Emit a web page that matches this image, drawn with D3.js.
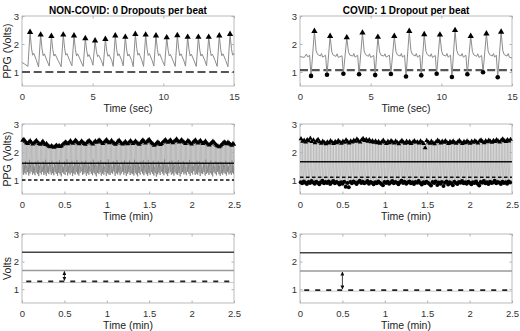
<!DOCTYPE html>
<html>
<head>
<meta charset="utf-8">
<script src="https://cdn.jsdelivr.net/npm/d3@7"></script>
<style>
  body { margin: 0; background: #fff; }
  svg { display: block; font-family: "Liberation Sans", Arial, sans-serif; }
</style>
</head>
<body>
<div id="chart"></div>
<script>
// ---------- top row: 15 s excerpts (time in sec, volts) ----------
const ncWave = [
  [0,1.34],[0.2,1.28],[0.42,1.2],[0.57,2.42],[0.67,1.86],[0.75,1.6],[0.83,1.67],[1.02,1.42],
  [1.17,1.18],[1.32,2.33],[1.42,1.82],[1.5,1.58],[1.58,1.65],[1.77,1.4],
  [1.93,1.21],[2.08,2.28],[2.18,1.8],[2.26,1.57],[2.34,1.64],[2.55,1.42],
  [2.77,1.19],[2.92,2.33],[3.02,1.83],[3.1,1.6],[3.18,1.66],[3.37,1.41],
  [3.53,1.22],[3.68,2.3],[3.78,1.8],[3.86,1.57],[3.94,1.65],[4.13,1.43],
  [4.33,1.2],[4.48,2.2],[4.58,1.76],[4.66,1.55],[4.74,1.62],[4.93,1.4],
  [5.02,1.24],[5.17,2.12],[5.27,1.72],[5.35,1.55],[5.43,1.6],[5.62,1.4],
  [5.75,1.21],[5.9,2.17],[6.0,1.75],[6.08,1.56],[6.16,1.62],[6.35,1.41],
  [6.45,1.2],[6.6,2.3],[6.7,1.8],[6.78,1.58],[6.86,1.65],[7.05,1.42],
  [7.16,1.22],[7.31,2.25],[7.41,1.78],[7.49,1.57],[7.57,1.64],[7.76,1.41],
  [7.87,1.19],[8.02,2.35],[8.12,1.84],[8.2,1.6],[8.28,1.67],[8.47,1.43],
  [8.6,1.2],[8.75,2.33],[8.85,1.82],[8.93,1.59],[9.01,1.66],[9.2,1.42],
  [9.33,1.21],[9.48,2.3],[9.58,1.8],[9.66,1.58],[9.74,1.65],[9.93,1.41],
  [10.09,1.22],[10.24,2.23],[10.34,1.78],[10.42,1.57],[10.5,1.63],[10.69,1.4],
  [10.84,1.2],[10.99,2.31],[11.09,1.81],[11.17,1.58],[11.25,1.65],[11.44,1.42],
  [11.57,1.21],[11.72,2.25],[11.82,1.79],[11.9,1.57],[11.98,1.64],[12.17,1.41],
  [12.33,1.2],[12.48,2.25],[12.58,1.78],[12.66,1.57],[12.74,1.64],[12.93,1.42],
  [13.06,1.22],[13.21,2.25],[13.31,1.79],[13.39,1.58],[13.47,1.64],[13.66,1.41],
  [13.81,1.2],[13.96,2.3],[14.06,1.8],[14.14,1.58],[14.22,1.65],[14.41,1.42],
  [14.57,1.19],[14.72,2.35],[14.82,1.83],[14.9,1.6],[14.98,1.66],[15,1.62]
];
const ncPeakT = [0.57,1.32,2.08,2.92,3.68,4.48,5.17,5.9,6.6,7.31,8.02,8.75,9.48,10.24,10.99,11.72,12.48,13.21,13.96,14.72];
const ncPeakV = [2.42,2.33,2.28,2.33,2.3,2.2,2.12,2.17,2.3,2.25,2.35,2.33,2.3,2.23,2.31,2.25,2.25,2.25,2.3,2.35];
const ncThreshTop = 1.0;

const cWave = [
  [0,1.55],[0.3,1.52],[0.45,1.64],[0.55,1.54],[0.68,1.6],[0.78,0.86],[1.02,2.46],[1.14,1.76],[1.24,1.63],[1.44,1.57],[1.52,1.66],[1.6,1.53],
  [1.81,1.6],[1.91,0.9],[2.13,2.28],[2.25,1.72],[2.35,1.6],[2.55,1.56],[2.63,1.65],[2.71,1.52],
  [2.97,1.58],[3.07,0.94],[3.31,2.23],[3.43,1.72],[3.53,1.6],[3.73,1.57],[3.81,1.66],[3.89,1.53],
  [4.08,1.6],[4.18,0.92],[4.42,2.4],[4.54,1.75],[4.64,1.62],[4.84,1.56],[4.92,1.65],[5.0,1.52],
  [5.22,1.59],[5.32,0.89],[5.51,2.25],[5.63,1.72],[5.73,1.6],[5.93,1.57],[6.01,1.65],[6.09,1.53],
  [6.33,1.6],[6.43,0.93],[6.67,2.28],[6.79,1.73],[6.89,1.61],[7.09,1.57],[7.17,1.66],[7.25,1.53],
  [7.4,1.6],[7.5,0.84],[7.73,2.46],[7.85,1.76],[7.95,1.63],[8.15,1.57],[8.23,1.66],[8.31,1.53],
  [8.48,1.6],[8.58,0.88],[8.79,2.34],[8.91,1.74],[9.01,1.62],[9.21,1.56],[9.29,1.65],[9.37,1.52],
  [9.57,1.59],[9.67,0.94],[9.9,2.33],[10.02,1.74],[10.12,1.61],[10.32,1.57],[10.4,1.66],[10.48,1.53],
  [10.65,1.6],[10.75,0.82],[10.97,2.49],[11.09,1.77],[11.19,1.63],[11.39,1.57],[11.47,1.66],[11.55,1.53],
  [11.74,1.6],[11.84,0.92],[12.08,2.28],[12.2,1.73],[12.3,1.61],[12.5,1.56],[12.58,1.65],[12.66,1.52],
  [12.85,1.59],[12.95,0.99],[13.19,2.37],[13.31,1.75],[13.41,1.62],[13.61,1.57],[13.69,1.66],[13.77,1.53],
  [13.89,1.6],[13.99,0.81],[14.23,2.43],[14.35,1.76],[14.45,1.62],[14.65,1.57],[14.73,1.66],[14.81,1.53],[15,1.5]
];
const cPeakT = [1.02,2.13,3.31,4.42,5.51,6.67,7.73,8.79,9.9,10.97,12.08,13.19,14.23];
const cPeakV = [2.46,2.28,2.23,2.4,2.25,2.28,2.46,2.34,2.33,2.49,2.28,2.37,2.43];
const cDropT = [0.78,1.91,3.07,4.18,5.32,6.43,7.5,8.58,9.67,10.75,11.84,12.95,13.99];
const cDropV = [0.86,0.9,0.94,0.92,0.89,0.93,0.84,0.88,0.94,0.82,0.92,0.99,0.81];
const cThreshTop = 1.07;

// ---------- middle row: 2.5 min recordings (beat onset in min) ----------
const ncBeatT = [
  0.005,0.020,0.034,0.049,0.065,0.080,0.094,0.109,0.124,0.139,
  0.154,0.168,0.183,0.198,0.214,0.229,0.243,0.258,0.272,0.287,
  0.302,0.317,0.332,0.346,0.361,0.376,0.391,0.405,0.420,0.435,
  0.450,0.464,0.479,0.494,0.509,0.523,0.538,0.553,0.568,0.582,
  0.597,0.612,0.627,0.641,0.656,0.671,0.686,0.700,0.715,0.730,
  0.745,0.759,0.774,0.789,0.804,0.818,0.833,0.848,0.863,0.877,
  0.892,0.907,0.922,0.936,0.951,0.966,0.981,0.995,1.010,1.025,
  1.040,1.054,1.069,1.084,1.099,1.113,1.128,1.143,1.158,1.172,
  1.187,1.202,1.217,1.231,1.246,1.261,1.276,1.290,1.305,1.320,
  1.335,1.349,1.364,1.379,1.394,1.408,1.423,1.438,1.453,1.467,
  1.482,1.497,1.512,1.526,1.541,1.556,1.571,1.585,1.600,1.615,
  1.630,1.644,1.659,1.674,1.689,1.703,1.718,1.733,1.748,1.762,
  1.777,1.792,1.807,1.821,1.836,1.851,1.866,1.880,1.895,1.910,
  1.925,1.939,1.954,1.969,1.984,1.998,2.013,2.028,2.043,2.057,
  2.072,2.087,2.102,2.116,2.131,2.146,2.161,2.175,2.190,2.205,
  2.220,2.234,2.249,2.264,2.279,2.293,2.308,2.323,2.338,2.352,
  2.367,2.382,2.397,2.411,2.426,2.441,2.456,2.470,2.485,2.495
];
const ncBeatPk = [
  2.42,2.45,2.38,2.33,2.30,2.36,2.40,2.34,2.28,2.32,
  2.37,2.41,2.35,2.30,2.27,2.33,2.38,2.31,2.26,2.30,
  2.24,2.20,2.18,2.22,2.19,2.17,2.21,2.24,2.20,2.23,
  2.19,2.22,2.27,2.31,2.36,2.33,2.29,2.34,2.40,2.35,
  2.31,2.36,2.42,2.38,2.33,2.29,2.34,2.39,2.35,2.30,
  2.27,2.33,2.37,2.41,2.36,2.32,2.28,2.35,2.39,2.34,
  2.38,2.43,2.39,2.34,2.30,2.35,2.40,2.44,2.37,2.33,
  2.36,2.41,2.35,2.31,2.27,2.32,2.38,2.42,2.36,2.31,
  2.28,2.33,2.37,2.32,2.29,2.35,2.40,2.36,2.30,2.34,
  2.39,2.35,2.31,2.27,2.33,2.38,2.43,2.37,2.32,2.36,
  2.41,2.45,2.38,2.33,2.29,2.24,2.27,2.32,2.36,2.31,
  2.26,2.30,2.35,2.40,2.44,2.38,2.34,2.39,2.43,2.37,
  2.33,2.38,2.42,2.46,2.40,2.35,2.39,2.44,2.38,2.34,
  2.30,2.35,2.41,2.37,2.32,2.28,2.34,2.39,2.43,2.36,
  2.32,2.37,2.41,2.35,2.30,2.34,2.39,2.33,2.28,2.25,
  2.29,2.33,2.38,2.34,2.28,2.24,2.21,2.18,2.22,2.26,
  2.31,2.36,2.33,2.29,2.35,2.31,2.27,2.24,2.30,2.27
];
const ncBeatTr = [
  1.22,1.18,1.25,1.20,1.28,1.16,1.23,1.30,1.19,1.24,
  1.17,1.27,1.21,1.14,1.25,1.20,1.29,1.18,1.23,1.15,
  1.26,1.21,1.30,1.19,1.24,1.17,1.28,1.22,1.15,1.25,
  1.20,1.13,1.27,1.22,1.18,1.29,1.16,1.24,1.20,1.26,
  1.14,1.23,1.19,1.28,1.21,1.16,1.25,1.31,1.18,1.22,
  1.27,1.15,1.24,1.19,1.30,1.22,1.17,1.26,1.20,1.13,
  1.25,1.21,1.28,1.16,1.23,1.19,1.29,1.14,1.24,1.20,
  1.18,1.26,1.22,1.30,1.15,1.24,1.20,1.27,1.17,1.23,
  1.29,1.19,1.25,1.14,1.22,1.28,1.18,1.24,1.21,1.16,
  1.26,1.20,1.13,1.25,1.19,1.30,1.22,1.17,1.27,1.21,
  1.15,1.24,1.19,1.28,1.22,1.16,1.25,1.12,1.20,1.26,
  1.18,1.29,1.23,1.17,1.26,1.21,1.14,1.24,1.30,1.19,
  1.23,1.16,1.27,1.21,1.18,1.25,1.13,1.22,1.28,1.20,
  1.24,1.17,1.29,1.22,1.15,1.26,1.20,1.31,1.18,1.23,
  1.19,1.27,1.14,1.24,1.21,1.28,1.16,1.22,1.26,1.18,
  1.25,1.20,1.13,1.27,1.23,1.17,1.29,1.21,1.15,1.24,
  1.19,1.26,1.22,1.16,1.28,1.20,1.24,1.18,1.25,1.21
];
const ncBeatNotch = [
  1.62,1.55,1.68,1.50,1.60,1.72,1.53,1.65,1.58,1.48,
  1.66,1.57,1.70,1.52,1.61,1.49,1.67,1.56,1.73,1.59,
  1.51,1.64,1.55,1.69,1.47,1.60,1.54,1.66,1.58,1.71,
  1.53,1.62,1.48,1.67,1.57,1.74,1.52,1.63,1.56,1.69,
  1.50,1.65,1.59,1.72,1.54,1.61,1.47,1.68,1.56,1.64,
  1.70,1.53,1.62,1.49,1.66,1.58,1.73,1.55,1.60,1.51,
  1.67,1.57,1.71,1.52,1.63,1.48,1.65,1.59,1.74,1.54,
  1.61,1.50,1.68,1.56,1.64,1.72,1.53,1.60,1.47,1.66,
  1.58,1.70,1.52,1.63,1.55,1.69,1.49,1.62,1.57,1.73,
  1.54,1.65,1.59,1.48,1.67,1.56,1.71,1.53,1.64,1.60,
  1.72,1.51,1.63,1.57,1.69,1.46,1.62,1.55,1.68,1.58,
  1.50,1.66,1.60,1.74,1.53,1.61,1.48,1.67,1.56,1.70,
  1.59,1.52,1.65,1.57,1.71,1.49,1.63,1.55,1.68,1.61,
  1.47,1.64,1.58,1.72,1.54,1.66,1.50,1.62,1.57,1.69,
  1.53,1.67,1.60,1.48,1.65,1.56,1.73,1.52,1.63,1.58,
  1.70,1.55,1.61,1.49,1.68,1.57,1.64,1.51,1.66,1.59,
  1.62,1.54,1.69,1.58,1.50,1.65,1.56,1.71,1.53,1.60
];
const ncMeanMid = 1.6;
const ncThreshMid = 1.0;

const cBeatT = [
  0.008,0.026,0.045,0.063,0.081,0.100,0.118,0.136,0.155,0.173,
  0.191,0.209,0.228,0.246,0.264,0.283,0.301,0.319,0.338,0.356,
  0.374,0.392,0.411,0.429,0.447,0.466,0.484,0.502,0.521,0.539,
  0.557,0.575,0.594,0.612,0.630,0.649,0.667,0.685,0.704,0.722,
  0.740,0.758,0.777,0.795,0.813,0.832,0.850,0.868,0.887,0.905,
  0.923,0.941,0.960,0.978,0.996,1.015,1.033,1.051,1.070,1.088,
  1.106,1.124,1.143,1.161,1.179,1.198,1.216,1.234,1.253,1.271,
  1.289,1.307,1.326,1.344,1.362,1.381,1.399,1.417,1.436,1.454,
  1.472,1.490,1.509,1.527,1.545,1.564,1.582,1.600,1.619,1.637,
  1.655,1.673,1.692,1.710,1.728,1.747,1.765,1.783,1.802,1.820,
  1.838,1.856,1.875,1.893,1.911,1.930,1.948,1.966,1.985,2.003,
  2.021,2.039,2.058,2.076,2.094,2.113,2.131,2.149,2.168,2.186,
  2.204,2.222,2.241,2.259,2.277,2.296,2.314,2.332,2.351,2.369,
  2.387,2.405,2.424,2.442,2.460,2.478
];
const cBeatPk = [
  2.47,2.38,2.42,2.35,2.44,2.40,2.49,2.37,2.43,2.33,
  2.39,2.45,2.36,2.31,2.38,2.34,2.29,2.36,2.32,2.40,
  2.35,2.30,2.37,2.33,2.41,2.36,2.31,2.38,2.34,2.43,
  2.37,2.32,2.39,2.35,2.42,2.38,2.46,2.40,2.35,2.43,
  2.48,2.41,2.45,2.38,2.44,2.36,2.40,2.34,2.39,2.33,
  2.37,2.31,2.36,2.42,2.35,2.30,2.38,2.33,2.40,2.36,
  2.32,2.39,2.34,2.29,2.36,2.41,2.35,2.31,2.38,2.33,
  2.37,2.30,2.35,2.40,2.35,2.36,2.32,2.39,2.34,2.30,
  2.15,2.41,2.35,2.31,2.38,2.33,2.29,2.36,2.42,2.37,
  2.32,2.38,2.34,2.40,2.35,2.30,2.37,2.33,2.39,2.34,
  2.31,2.36,2.41,2.35,2.30,2.37,2.33,2.39,2.35,2.31,
  2.38,2.34,2.40,2.36,2.32,2.39,2.43,2.37,2.33,2.40,
  2.36,2.42,2.38,2.34,2.41,2.37,2.44,2.39,2.35,2.42,
  2.46,2.40,2.37,2.44,2.39,2.45
];
const cBeatDrop = [
  0.92,0.88,0.95,0.90,0.86,0.93,0.89,0.96,0.91,0.87,
  0.94,0.90,0.85,0.92,0.97,0.88,0.93,0.89,0.95,0.86,
  0.91,0.96,0.88,0.93,0.90,0.84,0.92,0.87,0.94,0.76,
  0.89,0.74,0.93,0.88,0.95,0.91,0.86,0.92,0.97,0.89,
  0.94,0.88,0.91,0.96,0.87,0.93,0.90,0.85,0.92,0.88,
  0.95,0.90,0.86,0.81,0.93,0.89,0.94,0.87,0.91,0.96,
  0.88,0.93,0.90,0.85,0.92,0.97,0.89,0.94,0.87,0.91,
  0.95,0.88,0.92,0.86,0.93,0.90,0.96,0.89,0.84,0.92,
  0.88,0.94,0.90,0.86,0.80,0.93,0.89,0.95,0.82,0.91,
  0.87,0.93,0.79,0.90,0.95,0.84,0.92,0.88,0.81,0.94,
  0.89,0.86,0.93,0.90,0.96,0.88,0.92,0.87,0.94,0.90,
  0.85,0.92,0.89,0.95,0.87,0.80,0.93,0.90,0.96,0.88,
  0.92,0.86,0.94,0.89,0.91,0.97,0.88,0.93,0.90,0.86,
  0.94,0.89,0.92,0.87,0.95,0.91
];
const cBeatPlat = [
  1.62,1.70,1.58,1.66,1.74,1.60,1.68,1.55,1.72,1.63,
  1.57,1.69,1.64,1.75,1.59,1.67,1.53,1.71,1.62,1.66,
  1.73,1.58,1.65,1.60,1.70,1.56,1.68,1.63,1.74,1.59,
  1.66,1.72,1.57,1.64,1.69,1.61,1.75,1.58,1.67,1.62,
  1.70,1.55,1.68,1.63,1.73,1.60,1.66,1.71,1.57,1.65,
  1.62,1.74,1.59,1.67,1.56,1.70,1.64,1.72,1.58,1.68,
  1.61,1.69,1.75,1.60,1.66,1.57,1.71,1.63,1.68,1.55,
  1.73,1.62,1.67,1.59,1.70,1.64,1.58,1.74,1.61,1.69,
  1.65,1.57,1.72,1.63,1.68,1.60,1.75,1.56,1.66,1.71,
  1.59,1.67,1.62,1.73,1.58,1.69,1.64,1.70,1.55,1.66,
  1.72,1.60,1.68,1.63,1.74,1.57,1.65,1.71,1.61,1.67,
  1.58,1.70,1.64,1.75,1.59,1.66,1.62,1.73,1.56,1.68,
  1.63,1.71,1.57,1.67,1.60,1.74,1.65,1.58,1.69,1.62,
  1.70,1.56,1.66,1.72,1.61,1.64
];
const cMeanMid = 1.65;
const cThreshMid = 1.1;

// ---------- bottom row: summary levels ----------
// order: mean peak, signal mean, dropout threshold, lower floor
const ncLevels = [2.34, 1.68, 1.28, 1.24];
const cLevels = [2.32, 1.66, 0.97, 0.93];
const arrowAt = 0.5;

// ---------- layout ----------
const W = 520, H = 331;
const svg = d3.select("#chart").append("svg").attr("width", W).attr("height", H);

const defs = svg.append("defs");
defs.append("marker")
    .attr("id", "arrowhead")
    .attr("viewBox", "0 0 10 10")
    .attr("refX", 9).attr("refY", 5)
    .attr("markerWidth", 5).attr("markerHeight", 5)
    .attr("orient", "auto-start-reverse")
    .append("path")
    .attr("d", "M0,0L10,5L0,10Z")
    .attr("fill", "#111");

const cols = [{ x0: 22, x1: 234 }, { x0: 300, x1: 512 }];
const rows = [{ y0: 16, y1: 86 }, { y0: 124, y1: 194 }, { y0: 234, y1: 303 }];
const fmt = d3.format("~g");
const frameColor = "#b3b3b3";

function makePanel(col, row, xMax, xTicks, xLabel, yLabel) {
    const x = d3.scaleLinear().domain([0, xMax]).range([col.x0, col.x1]);
    const y = d3.scaleLinear().domain([0.5, 3]).range([row.y1, row.y0]);
    const g = svg.append("g");

    g.append("rect")
        .attr("x", col.x0).attr("y", row.y0)
        .attr("width", col.x1 - col.x0).attr("height", row.y1 - row.y0)
        .attr("fill", "#fff").attr("stroke", frameColor).attr("stroke-width", 0.9);

    const addAxis = (axis, tx, ty) => {
        const a = g.append("g")
            .attr("transform", `translate(${tx},${ty})`)
            .call(axis)
            .attr("font-family", null).attr("font-size", null);
        a.select(".domain").remove();
        a.selectAll("line").attr("stroke", frameColor);
        a.selectAll("text").attr("fill", "#333").style("font-size", "9.5px");
    };
    addAxis(d3.axisBottom(x).tickValues(xTicks).tickFormat(fmt).tickSize(-2.5).tickPadding(7), 0, row.y1);
    addAxis(d3.axisTop(x).tickValues(xTicks).tickFormat("").tickSize(-2.5), 0, row.y0);
    addAxis(d3.axisLeft(y).tickValues([1, 2, 3]).tickFormat(fmt).tickSize(-2.5).tickPadding(3), col.x0, 0);
    addAxis(d3.axisRight(y).tickValues([1, 2, 3]).tickFormat("").tickSize(-2.5), col.x1, 0);

    g.append("text")
        .attr("x", (col.x0 + col.x1) / 2).attr("y", row.y1 + 26)
        .attr("text-anchor", "middle")
        .attr("fill", "#222").style("font-size", "10.5px")
        .text(xLabel);

    if (yLabel) {
        g.append("text")
            .attr("transform", `translate(10.5,${(row.y0 + row.y1) / 2}) rotate(-90)`)
            .attr("text-anchor", "middle")
            .attr("fill", "#222").style("font-size", "10.5px")
            .text(yLabel);
    }

    const plot = g.append("g");
    return { x, y, plot };
}

function hLine(p, v, color, width, dash, x0, x1) {
    const [d0, d1] = p.x.domain();
    p.plot.append("line")
        .attr("x1", p.x(x0 ?? d0)).attr("x2", p.x(x1 ?? d1))
        .attr("y1", p.y(v)).attr("y2", p.y(v))
        .attr("stroke", color).attr("stroke-width", width)
        .attr("stroke-dasharray", dash || null);
}

function wave(p, pts, color, width) {
    const line = d3.line().x(d => p.x(d[0])).y(d => p.y(d[1]));
    p.plot.append("path")
        .attr("d", line(pts))
        .attr("fill", "none").attr("stroke", color)
        .attr("stroke-width", width).attr("stroke-linejoin", "round");
}

function triangles(p, ts, vs, size) {
    p.plot.selectAll(null)
        .data(ts.map((t, i) => [t, vs[i]]))
        .join("path")
        .attr("transform", d => `translate(${p.x(d[0])},${p.y(d[1])})`)
        .attr("d", d3.symbol(d3.symbolTriangle, size))
        .attr("fill", "#000");
}

function dots(p, ts, vs, r) {
    p.plot.selectAll(null)
        .data(ts.map((t, i) => [t, vs[i]]))
        .join("circle")
        .attr("cx", d => p.x(d[0])).attr("cy", d => p.y(d[1]))
        .attr("r", r).attr("fill", "#000");
}

// ---------- titles ----------
svg.append("text")
    .attr("x", (cols[0].x0 + cols[0].x1) / 2).attr("y", 13.5)
    .attr("text-anchor", "middle").attr("font-weight", "bold")
    .style("font-size", "10px").attr("fill", "#000")
    .text("NON-COVID: 0 Dropouts per beat");
svg.append("text")
    .attr("x", (cols[1].x0 + cols[1].x1) / 2).attr("y", 13.5)
    .attr("text-anchor", "middle").attr("font-weight", "bold")
    .style("font-size", "10px").attr("fill", "#000")
    .text("COVID: 1 Dropout per beat");

const secTicks = [0, 5, 10, 15];
const minTicks = [0, 0.5, 1, 1.5, 2, 2.5];

// ---------- row 1 ----------
const p1 = makePanel(cols[0], rows[0], 15, secTicks, "Time (sec)", "PPG (Volts)");
hLine(p1, ncThreshTop, "#555", 2.2, "8,3.7");
wave(p1, ncWave, "#8c8c8c", 1);
triangles(p1, ncPeakT, ncPeakV, 17);

const p2 = makePanel(cols[1], rows[0], 15, secTicks, "Time (sec)", null);
hLine(p2, cThreshTop, "#555", 2.2, "8,3.7");
wave(p2, cWave, "#8c8c8c", 1);
triangles(p2, cPeakT, cPeakV, 17);
dots(p2, cDropT, cDropV, 2.3);

// ---------- row 2 ----------
const ncMidPts = [];
ncBeatT.forEach((t, i) => {
    ncMidPts.push([t, ncBeatTr[i]], [t + 0.0025, ncBeatPk[i]], [t + 0.006, ncBeatNotch[i]]);
});
const p3 = makePanel(cols[0], rows[1], 2.5, minTicks, "Time (min)", "PPG (Volts)");
wave(p3, ncMidPts, "#b4b4b4", 0.8);
// the slow diastolic decay (notch -> next trough) is drawn darker
const decayLine = d3.line().x(d => p3.x(d[0])).y(d => p3.y(d[1]));
p3.plot.append("path")
    .attr("d", ncBeatT.slice(0, -1).map((t, i) =>
        decayLine([[t + 0.006, ncBeatNotch[i]], [ncBeatT[i + 1], ncBeatTr[i + 1]]])).join(""))
    .attr("fill", "none").attr("stroke", "#7a7a7a").attr("stroke-width", 0.8);
hLine(p3, ncMeanMid, "#111", 1.5);
hLine(p3, ncThreshMid, "#111", 1.5, "3.5,2.5");
triangles(p3, ncBeatT.map(t => t + 0.0025), ncBeatPk, 10);

const cMidPts = [];
cBeatT.forEach((t, i) => {
    cMidPts.push([t, cBeatDrop[i]], [t + 0.004, cBeatPk[i]], [t + 0.0065, cBeatPlat[i]]);
});
const p4 = makePanel(cols[1], rows[1], 2.5, minTicks, "Time (min)", null);
wave(p4, cMidPts, "#b8b8b8", 0.8);
hLine(p4, cMeanMid, "#111", 1.5);
hLine(p4, cThreshMid, "#111", 1.5, "3.5,2.5");
triangles(p4, cBeatT.map(t => t + 0.004), cBeatPk, 10);
dots(p4, cBeatT, cBeatDrop, 2);

// ---------- row 3 ----------
function levelsPanel(col, yLabel, lv) {
    const p = makePanel(col, rows[2], 2.5, minTicks, "Time (min)", yLabel);
    hLine(p, lv[3], "#c8c8c8", 1);
    hLine(p, lv[0], "#444", 1.6);
    hLine(p, lv[1], "#9a9a9a", 1.6);
    hLine(p, lv[2], "#222", 1.8, "5,6", 0.05, 2.47);
    p.plot.append("line")
        .attr("x1", p.x(arrowAt)).attr("x2", p.x(arrowAt))
        .attr("y1", p.y(lv[1]) + 1).attr("y2", p.y(lv[2]) - 1)
        .attr("stroke", "#111").attr("stroke-width", 0.8)
        .attr("marker-start", "url(#arrowhead)")
        .attr("marker-end", "url(#arrowhead)");
    return p;
}
levelsPanel(cols[0], "Volts", ncLevels);
levelsPanel(cols[1], null, cLevels);
</script>
</body>
</html>
